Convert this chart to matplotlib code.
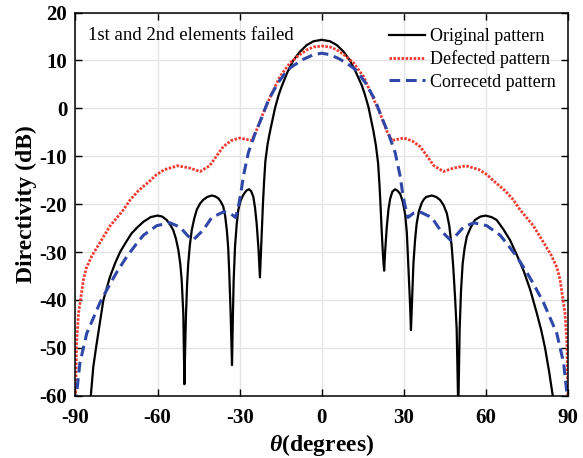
import matplotlib
matplotlib.use('Agg')
import matplotlib.pyplot as plt

plt.rcParams['font.family'] = ['Liberation Serif', 'DejaVu Serif']
plt.rcParams['mathtext.fontset'] = 'custom'
plt.rcParams['mathtext.rm'] = 'Liberation Serif:bold'
plt.rcParams['mathtext.it'] = 'Liberation Serif:italic:bold'
plt.rcParams['axes.unicode_minus'] = False

# Original pattern (black)
theta_orig = [-86.0, -84.4, -83.5, -82.5, -81.0, -79.8, -77.4, -75.5, -73.7, -71.5,
              -69.5, -67.3, -65.2, -62.5, -60.0, -58.3, -56.7, -55.5, -54.3, -53.3,
              -52.4, -51.7, -51.2, -50.6, -50.2, -49.8, -49.6, -49.2, -48.8, -48.2,
              -47.5, -46.6, -45.7, -44.5, -43.3, -41.8, -40.2, -38.9, -37.8, -36.9,
              -36.0, -35.3, -34.7, -34.2, -33.8, -33.3, -32.8, -32.5, -32.2, -31.7,
              -31.1, -30.5, -29.6, -28.7, -27.6, -26.6, -25.8, -25.0, -24.4, -23.8,
              -23.1, -22.6, -22.3, -21.9, -21.5, -21.1, -20.6, -19.8, -18.9, -17.1,
              -15.8, -14.7, -12.5, -10.4, -8.0, -5.5, -3.0, 0.0, 3.0, 5.5,
              8.0, 10.4, 12.5, 14.7, 15.8, 17.1, 18.9, 19.8, 20.6, 21.1,
              21.5, 21.9, 22.4, 22.8, 23.2, 23.8, 24.4, 25.0, 25.8, 26.8,
              27.7, 28.7, 29.6, 30.5, 31.1, 31.6, 32.2, 32.6, 33.0, 33.5,
              34.1, 34.7, 35.5, 36.5, 37.3, 38.2, 40.2, 41.8, 43.2, 44.5,
              45.7, 46.6, 47.5, 48.1, 48.7, 49.3, 49.9, 50.4, 50.9, 51.5,
              52.2, 53.0, 54.5, 56.0, 58.0, 59.9, 62.0, 63.9, 66.3, 68.8,
              71.2, 73.7, 76.2, 78.6, 80.2, 81.6, 83.1, 84.4, 86.0]
db_orig = [-66.0, -60.0, -54.0, -50.0, -44.5, -40.0, -35.2, -32.3, -30.0, -27.9,
           -26.1, -24.8, -23.7, -22.7, -22.4, -22.6, -23.3, -24.2, -25.4, -27.2,
           -29.6, -32.5, -35.8, -42.8, -57.6, -47.0, -42.8, -36.5, -32.4, -28.5,
           -25.4, -23.0, -21.2, -19.9, -19.1, -18.5, -18.2, -18.4, -18.8, -19.5,
           -20.5, -22.5, -25.4, -29.0, -34.4, -42.8, -53.6, -44.0, -36.0, -28.9,
           -24.3, -21.2, -19.2, -18.1, -17.2, -16.9, -17.3, -18.5, -20.7, -24.0,
           -29.5, -35.3, -31.0, -25.5, -20.0, -15.5, -11.0, -7.5, -4.8, 0.0,
           2.7, 4.5, 7.6, 10.0, 11.8, 13.2, 14.0, 14.3, 14.0, 13.2,
           11.8, 9.9, 7.5, 4.7, 2.8, 0.2, -4.8, -7.8, -11.5, -16.0,
           -20.5, -25.5, -31.0, -33.9, -29.5, -24.5, -21.0, -18.9, -17.4, -16.9,
           -17.2, -17.9, -19.5, -22.2, -26.0, -32.4, -40.0, -46.3, -40.0, -32.4,
           -27.5, -24.0, -21.5, -19.8, -19.0, -18.5, -18.2, -18.5, -19.1, -20.2,
           -21.9, -24.5, -28.9, -33.5, -39.3, -46.0, -63.0, -46.0, -38.0, -32.4,
           -29.2, -26.8, -24.8, -23.3, -22.6, -22.4, -22.7, -23.3, -25.2, -27.5,
           -30.5, -33.8, -37.9, -42.8, -46.3, -50.0, -55.0, -60.0, -66.0]

# Defected pattern (red dotted)
theta_def = [-90.0, -89.6, -88.9, -87.1, -86.0, -84.0, -82.0, -77.3, -72.5, -70.0,
             -67.0, -62.5, -60.5, -57.5, -52.7, -48.0, -44.5, -41.0, -38.5, -36.0,
             -33.0, -30.0, -27.5, -25.6, -23.8, -21.4, -18.9, -15.3, -11.6, -8.5,
             -5.5, -3.0, 0.0, 3.0, 5.5, 8.5, 11.6, 15.3, 18.9, 21.4,
             23.8, 25.6, 27.5, 30.0, 33.0, 36.0, 38.5, 41.0, 44.5, 48.0,
             52.7, 57.5, 60.5, 62.5, 67.0, 70.0, 72.5, 77.3, 82.0, 84.0,
             86.0, 87.1, 88.9, 89.6, 90.0]
db_def = [-62.0, -49.0, -42.8, -35.8, -33.3, -30.8, -28.9, -24.5, -21.2, -19.1,
          -17.2, -15.0, -13.9, -12.8, -12.0, -12.5, -13.2, -12.0, -10.0, -8.0,
          -6.7, -6.2, -6.5, -6.7, -4.5, -1.0, 2.3, 6.6, 9.5, 11.0,
          12.2, 12.8, 13.0, 12.8, 12.2, 11.0, 9.5, 6.6, 2.0, -1.2,
          -4.8, -6.7, -6.5, -6.2, -6.8, -8.0, -10.0, -12.0, -13.2, -12.5,
          -12.0, -12.8, -13.9, -15.0, -17.2, -19.1, -21.2, -24.5, -28.9, -30.8,
          -33.3, -35.8, -42.8, -49.0, -62.0]

# Corrected pattern (blue dashed)
theta_cor = [-90.0, -89.5, -88.4, -85.9, -81.0, -77.5, -74.9, -71.3, -68.0, -65.2,
             -60.3, -55.5, -51.8, -49.0, -47.0, -43.3, -40.2, -35.8, -33.5, -31.5,
             -30.3, -29.5, -28.7, -26.8, -24.5, -22.0, -19.5, -16.0, -12.5, -10.4,
             -6.5, -3.0, 0.0, 3.0, 6.5, 10.4, 12.5, 16.0, 19.5, 22.0,
             24.5, 26.8, 28.7, 29.5, 30.3, 31.5, 33.5, 35.8, 40.2, 43.3,
             47.0, 49.0, 51.8, 55.5, 60.3, 65.2, 68.0, 71.3, 74.9, 77.5,
             81.0, 85.9, 88.4, 89.5, 90.0]
db_cor = [-62.0, -59.0, -53.2, -47.0, -40.5, -36.8, -34.2, -31.0, -28.5, -26.5,
          -24.5, -23.9, -24.8, -26.6, -27.5, -25.4, -22.8, -21.6, -21.9, -22.8,
          -20.0, -17.5, -14.3, -9.2, -5.5, -2.0, 1.7, 5.3, 8.0, 8.9,
          10.3, 11.2, 11.5, 11.2, 10.3, 8.9, 8.0, 5.3, 1.7, -2.0,
          -5.5, -9.2, -14.3, -17.5, -20.0, -22.8, -21.9, -21.6, -22.8, -25.4,
          -27.5, -26.6, -24.8, -23.9, -24.5, -26.5, -28.5, -31.0, -34.2, -36.8,
          -40.5, -47.0, -53.2, -59.0, -62.0]

labels = ['Original pattern', 'Defected pattern', 'Correcetd pattern']

fig = plt.figure(figsize=(5.83, 4.58), dpi=100)
ax = fig.add_axes([0.1295, 0.136, 0.8448, 0.8367])

ax.plot(theta_orig, db_orig, '-', color='black', lw=1.6, label=labels[0])
ax.plot(theta_def, db_def, color='#f03a30', lw=2.0, linestyle=(0, (0.9, 0.55)),
        label=labels[1])
ax.plot(theta_cor, db_cor, color='#2f47a8', lw=2.2, linestyle=(0, (3.5, 1.9)),
        label=labels[2])

ax.set_xlim(-90, 90)
ax.set_ylim(-60, 20)
ax.set_xticks([-90, -60, -30, 0, 30, 60, 90])
ax.set_yticks([-60, -50, -40, -30, -20, -10, 0, 10, 20])
ax.grid(True, color='#e4e4e4', lw=1.0)
ax.set_axisbelow(True)
ax.tick_params(axis='both', direction='in', top=True, right=True,
               length=5, width=1.0, labelsize=15)
ax.tick_params(axis='x', pad=9)
ax.tick_params(axis='y', pad=6)
for t in ax.get_xticklabels() + ax.get_yticklabels():
    t.set_fontweight('bold')
for s in ax.spines.values():
    s.set_linewidth(1.1)

ax.set_xlabel(r'$\theta$(degrees)', fontsize=17, fontweight='bold', labelpad=3)
ax.set_ylabel('Directivity (dB)', fontsize=17, fontweight='bold', labelpad=2)

ax.text(0.025, 0.941, '1st and 2nd elements failed', transform=ax.transAxes,
        fontsize=13.5, va='center', ha='left')

ax.legend(loc='upper right', bbox_to_anchor=(0.975, 0.959), frameon=False,
          prop={'size': 13}, handlelength=2.0, handletextpad=0.25,
          labelspacing=0.29, borderpad=0, borderaxespad=0)

fig.savefig('out.png', dpi=100)
